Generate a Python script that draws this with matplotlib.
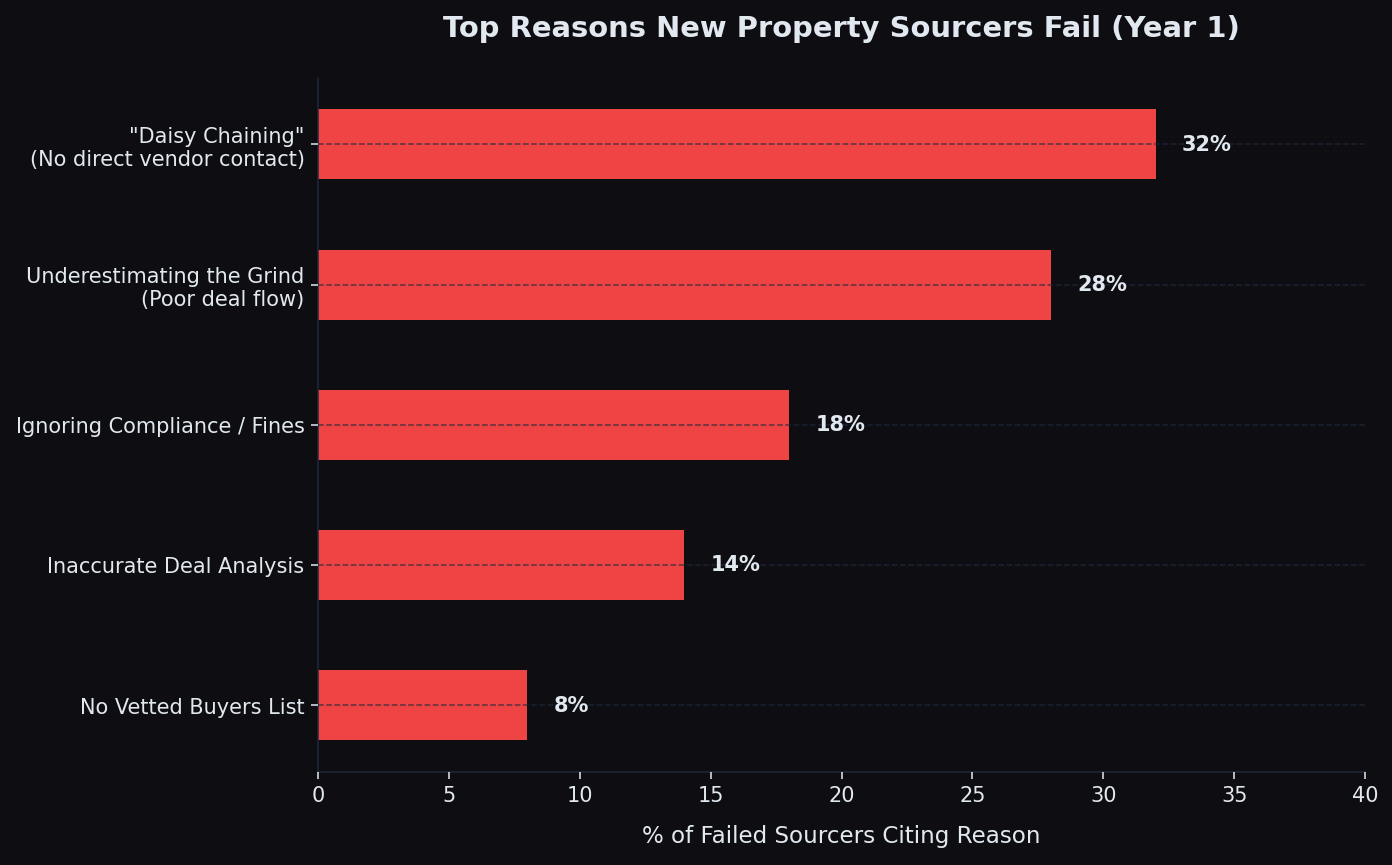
import matplotlib.pyplot as plt

plt.rcParams['font.family'] = ['DejaVu Sans']

reasons = ['"Daisy Chaining"\n(No direct vendor contact)',
           'Underestimating the Grind\n(Poor deal flow)',
           'Ignoring Compliance / Fines',
           'Inaccurate Deal Analysis',
           'No Vetted Buyers List']
percent = [32, 28, 18, 14, 8]

bg = '#0e0e12'
text_col = '#e2e8f0'
spine_col = '#1e293b'

fig, ax = plt.subplots(figsize=(10, 6.216), dpi=139.2)
fig.patch.set_facecolor(bg)
ax.set_facecolor(bg)

# reverse so the biggest is on top
ypos = list(range(len(reasons)))[::-1]
ax.barh(ypos, percent, height=0.5, color='#ef4444', zorder=2)

for y, v in zip(ypos, percent):
    ax.text(v + 1, y, f'{v}%', va='center', ha='left', color=text_col,
            fontsize=10.8, fontweight='bold', zorder=4)

ax.set_yticks(ypos)
ax.set_yticklabels(reasons)
ax.set_xlim(0, 40)
ax.grid(axis='y', color='#1e293b', linestyle='--', linewidth=0.8, alpha=0.7, zorder=3)
ax.set_axisbelow(False)

for s in ['top', 'right']:
    ax.spines[s].set_visible(False)
for s in ['left', 'bottom']:
    ax.spines[s].set_color(spine_col)

ax.tick_params(colors=text_col, labelsize=10.8)
ax.set_xlabel('% of Failed Sourcers Citing Reason', color=text_col, fontsize=11.9, labelpad=10)
ax.set_title('Top Reasons New Property Sourcers Fail (Year 1)', color=text_col,
             fontsize=15, fontweight='bold', pad=21)

plt.subplots_adjust(left=0.2285, right=0.9806, top=0.9098, bottom=0.1075)
plt.savefig('out.png', facecolor=bg)
